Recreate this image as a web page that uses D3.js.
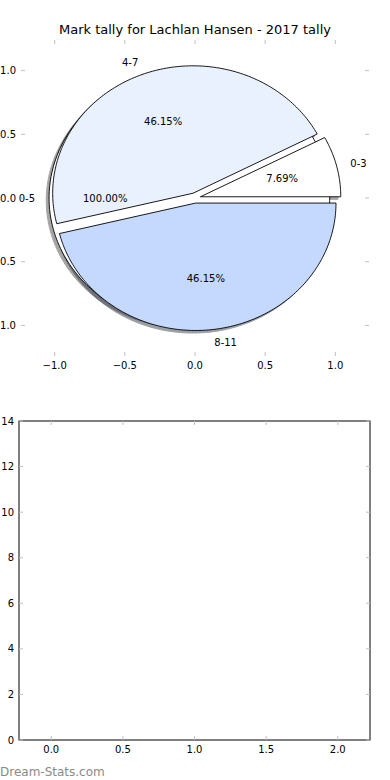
<!DOCTYPE html>
<html>
  <head>
    <meta charset="utf-8">
    <title>Mark tally pie</title>
    <script src="https://d3js.org/d3.v7.min.js"></script>
    <style>
      body{ margin:0; background:#fff; font-family:'DejaVu Sans', sans-serif; }
      text{ font-family:'DejaVu Sans', sans-serif; }
    </style>
  </head>
  <body>
    <svg></svg>
    <script>
    //begin: data
    var titleText = "Mark tally for Lachlan Hansen - 2017 tally";
    var backLabels = ["0-5"];
    var backValues = [1];
    var backColors = ["#ffffff"];
    var labels = ["0-3", "4-7", "8-11"];
    var values = [1, 6, 6];
    var colors = ["#ffffff", "#e9f0fe", "#c5d8fd"];
    var pieTicks = [-1, -0.5, 0, 0.5, 1];
    var barXTicks = [0, 0.5, 1, 1.5, 2];
    var barYTicks = [0, 2, 4, 6, 8, 10, 12, 14];
    //end: data

    //begin: layout conf.
    var svgWidth = 390, svgHeight = 780;
    var explode = 0.04, shadowOff = 0.02;
    var tickColor = "#c0c0c0", tickLen = 4;
    //end: layout conf.

    var svg = d3.select("svg").attr("width", svgWidth).attr("height", svgHeight);

    var fmtTick = function(d){ return d3.format(".1f")(d).replace("-", "\u2212"); };

    // top pie axes
    var px = d3.scaleLinear().domain([-1.24, 1.24]).range([21, 369]);
    var py = d3.scaleLinear().domain([-1.24, 1.24]).range([356, 40]);

    svg.append("text")
      .attr("x", 195).attr("y", 34)
      .attr("text-anchor", "middle")
      .style("font-size", "13px")
      .text(titleText);

    function drawTicks(g, x, y, xt, yt, xfmt, yfmt) {
      var x0 = x.range()[0], x1 = x.range()[1], y0 = y.range()[0], y1 = y.range()[1];
      xt.forEach(function(t){
        g.append("line").attr("x1", x(t)).attr("x2", x(t)).attr("y1", y0).attr("y2", y0 - tickLen)
          .attr("stroke", tickColor);
        g.append("line").attr("x1", x(t)).attr("x2", x(t)).attr("y1", y1).attr("y2", y1 + tickLen)
          .attr("stroke", tickColor);
        g.append("text").attr("x", x(t)).attr("y", y0 + 13)
          .attr("text-anchor", "middle").style("font-size", "10px").text(xfmt(t));
      });
      yt.forEach(function(t){
        g.append("line").attr("x1", x0).attr("x2", x0 + tickLen).attr("y1", y(t)).attr("y2", y(t))
          .attr("stroke", tickColor);
        g.append("line").attr("x1", x1).attr("x2", x1 - tickLen).attr("y1", y(t)).attr("y2", y(t))
          .attr("stroke", tickColor);
        g.append("text").attr("x", x0 - 5).attr("y", y(t) + 3.5)
          .attr("text-anchor", "end").style("font-size", "10px").text(yfmt(t));
      });
    }

    var pieG = svg.append("g");
    drawTicks(pieG, px, py, pieTicks, pieTicks, fmtTick, fmtTick);

    // matplotlib-style pie: angles counterclockwise from +x
    var pie = d3.pie().sort(null).startAngle(0).endAngle(2 * Math.PI);

    function wedgePath(cx, cy, a0, a1, full) {
      var n = Math.max(8, Math.ceil((a1 - a0) / 0.02)), pts = [];
      for (var i = 0; i <= n; i++) {
        var a = a0 + (a1 - a0) * i / n;
        pts.push([px(cx + Math.cos(a)), py(cy + Math.sin(a))]);
      }
      if (full) return "M" + pts.join("L") + "Z";
      return "M" + [px(cx), py(cy)] + "L" + pts.join("L") + "Z";
    }

    function buildWedges(vals, labs, cols) {
      var total = d3.sum(vals);
      return pie(vals).map(function(d, i){
        var mid = (d.startAngle + d.endAngle) / 2;
        return {
          a0: d.startAngle, a1: d.endAngle, mid: mid,
          cx: explode * Math.cos(mid), cy: explode * Math.sin(mid),
          full: vals.length === 1,
          label: labs[i], color: cols[i],
          pct: d3.format(".2f")(100 * vals[i] / total) + "%"
        };
      });
    }

    var wedges = buildWedges(backValues, backLabels, backColors)
      .concat(buildWedges(values, labels, colors));

    // shadows first (they sit under every wedge)
    var shadowG = pieG.append("g");
    wedges.forEach(function(w){
      var c = d3.rgb(w.color);
      var sc = d3.rgb(c.r * 0.3, c.g * 0.3, c.b * 0.3);
      shadowG.append("path")
        .attr("d", wedgePath(w.cx - shadowOff, w.cy - shadowOff, w.a0, w.a1, w.full))
        .attr("fill", sc).attr("stroke", sc).attr("opacity", 0.5);
    });

    var wedgeG = pieG.append("g");
    wedges.forEach(function(w){
      wedgeG.append("path")
        .attr("d", wedgePath(w.cx, w.cy, w.a0, w.a1, w.full))
        .attr("fill", w.color).attr("stroke", "#000").attr("stroke-width", 0.9)
        .attr("stroke-linejoin", "miter");
    });

    wedges.forEach(function(w){
      var lx = w.cx + 1.1 * Math.cos(w.mid), ly = w.cy + 1.1 * Math.sin(w.mid);
      pieG.append("text")
        .attr("x", px(lx)).attr("y", py(ly) + 3.5)
        .attr("text-anchor", lx > 0 ? "start" : "end")
        .style("font-size", "10px").text(w.label);
      var tx = w.cx + 0.6 * Math.cos(w.mid), ty = w.cy + 0.6 * Math.sin(w.mid);
      pieG.append("text")
        .attr("x", px(tx)).attr("y", py(ty) + 3.5)
        .attr("text-anchor", "middle")
        .style("font-size", "10px").text(w.pct);
    });

    // bottom empty axes
    var bx = d3.scaleLinear().domain([-0.225, 2.225]).range([19, 370]);
    var by = d3.scaleLinear().domain([0, 14]).range([740, 421]);
    var barG = svg.append("g");
    barG.append("rect")
      .attr("x", bx.range()[0]).attr("y", by.range()[1])
      .attr("width", bx.range()[1] - bx.range()[0]).attr("height", by.range()[0] - by.range()[1])
      .attr("fill", "none").attr("stroke", "#000").attr("stroke-width", 1);
    drawTicks(barG, bx, by, barXTicks, barYTicks, fmtTick, d3.format("d"));

    svg.append("text")
      .attr("x", 0).attr("y", 776)
      .style("font-size", "12px").attr("fill", "#8a8a8a")
      .text("Dream-Stats.com");
    </script>
  </body>
</html>
